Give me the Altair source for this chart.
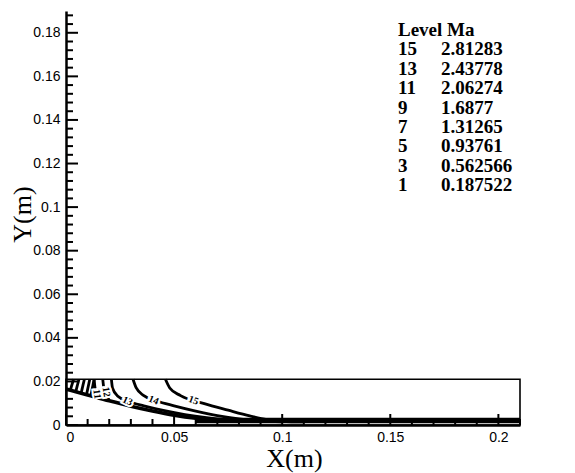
import altair as alt
import pandas as pd

# ---- domain box (m) ----
box_x = [0.0, 0.21]
box_y = [0.0, 0.021]

# ---- Mach contour lines (m) ----
edge_x = [0.0, 0.01, 0.02, 0.03, 0.04, 0.05, 0.06, 0.07, 0.08]
edge_y = [0.0165, 0.0138, 0.0111, 0.0086, 0.0064, 0.0045, 0.0031, 0.0022, 0.0017]

c11_x = [0.013, 0.0134, 0.0142, 0.0154]
c11_y = [0.021, 0.0172, 0.0140, 0.0126]
c12_x = [0.017, 0.0174, 0.0184, 0.0200]
c12_y = [0.021, 0.0176, 0.0142, 0.0114]
c13_x = [0.021, 0.0215, 0.024, 0.029, 0.036, 0.045, 0.055, 0.065, 0.075, 0.085]
c13_y = [0.021, 0.0170, 0.0132, 0.0108, 0.0088, 0.0067, 0.0048, 0.0034, 0.0024, 0.0018]
c14_x = [0.031, 0.0325, 0.036, 0.042, 0.050, 0.060, 0.070, 0.080, 0.090, 0.100]
c14_y = [0.021, 0.0170, 0.0135, 0.0110, 0.0088, 0.0064, 0.0043, 0.0028, 0.0019, 0.0015]
c15_x = [0.046, 0.048, 0.053, 0.064, 0.075, 0.085, 0.093, 0.100, 0.110]
c15_y = [0.021, 0.0170, 0.0135, 0.0098, 0.0068, 0.0042, 0.0025, 0.0017, 0.0014]

# short inlet contours near x = 0
inlet_x0 = [0.002, 0.0045, 0.007, 0.0095, 0.0115]
inlet_y0 = [0.0160, 0.0153, 0.0146, 0.0140, 0.0134]
inlet_x1 = [0.0035, 0.006, 0.0085, 0.011, 0.013]

# boundary-layer contours hugging the wall
wall_x = [0.06, 0.21]
wall_levels_y = [0.0014, 0.0020, 0.0027]

# contour labels
lab_text = ["11", "12", "13", "14", "15"]
lab_x = [0.0143, 0.0186, 0.0285, 0.0405, 0.0590]
lab_y = [0.0142, 0.0152, 0.0110, 0.0114, 0.0113]
lab_angle = [82, 80, 25, 22, 20]

# legend table
legend_level = ["15", "13", "11", "9", "7", "5", "3", "1"]
legend_ma = ["2.81283", "2.43778", "2.06274", "1.6877", "1.31265", "0.93761", "0.562566", "0.187522"]

# axis ticks
x_major = [0.0, 0.05, 0.1, 0.15, 0.2]
x_minor = [0.01, 0.02, 0.03, 0.04, 0.06, 0.07, 0.08, 0.09, 0.11, 0.12, 0.13, 0.14,
           0.16, 0.17, 0.18, 0.19, 0.21]
y_major = [0.0, 0.02, 0.04, 0.06, 0.08, 0.1, 0.12, 0.14, 0.16, 0.18]
y_minor = [0.004, 0.008, 0.012, 0.016, 0.024, 0.028, 0.032, 0.036, 0.044, 0.048, 0.052,
           0.056, 0.064, 0.068, 0.072, 0.076, 0.084, 0.088, 0.092, 0.096, 0.104, 0.108,
           0.112, 0.116, 0.124, 0.128, 0.132, 0.136, 0.144, 0.148, 0.152, 0.156, 0.164,
           0.168, 0.172, 0.176, 0.184, 0.188]

W, H = 454, 414
XMAX, YMAX = 0.21, 0.19

# ---- tables ----
rows = []
def add_line(name, xs, ys):
    for i, (a, b) in enumerate(zip(xs, ys)):
        rows.append({"line": name, "order": i, "x": a, "y": b})

for nm, xs, ys in [("c11", c11_x, c11_y), ("c12", c12_x, c12_y), ("c13", c13_x, c13_y),
                   ("c14", c14_x, c14_y), ("c15", c15_x, c15_y)]:
    add_line(nm, xs, ys)
for k, (a0, b0, a1) in enumerate(zip(inlet_x0, inlet_y0, inlet_x1)):
    add_line(f"inlet{k}", [a0, a1], [b0, box_y[1]])
for k, wy in enumerate(wall_levels_y):
    add_line(f"wall{k}", wall_x, [wy, wy])
lines_df = pd.DataFrame(rows)
edge_df = pd.DataFrame({"x": edge_x, "y": edge_y, "order": list(range(len(edge_x)))})

box_df = pd.DataFrame({"x": [box_x[0]], "x2": [box_x[1]], "y": [box_y[0]], "y2": [box_y[1]]})
lab_df = pd.DataFrame({"t": lab_text, "x": lab_x, "y": lab_y, "a": lab_angle})
leg_df = pd.DataFrame({"lev": legend_level, "ma": legend_ma, "row": list(range(1, len(legend_level) + 1))})
head_df = pd.DataFrame({"t": ["Level Ma"], "row": [0]})

xs = alt.Scale(domain=[0, XMAX], nice=False, zero=False)
ys = alt.Scale(domain=[0, YMAX], nice=False, zero=False)

x_axis = alt.Axis(values=x_major, format="~g", grid=False, ticks=True, tickSize=0,
                  domainColor="black", domainWidth=2.5, labelFont="Liberation Sans",
                  labelFontSize=14, labelColor="black", labelPadding=5,
                  title="X(m)", titleFont="Liberation Serif", titleFontSize=26,
                  titleFontWeight="normal", titleColor="black", titleX=228, titleY=41,
                  titleAlign="center", titleBaseline="alphabetic")
y_axis = alt.Axis(values=y_major, format="~g", grid=False, ticks=True, tickSize=0,
                  domainColor="black", domainWidth=2.5, labelFont="Liberation Sans",
                  labelFontSize=14, labelColor="black", labelPadding=6,
                  title="Y(m)", titleFont="Liberation Serif", titleFontSize=26,
                  titleFontWeight="normal", titleColor="black", titleAngle=270,
                  titleX=-36, titleY=203, titleAlign="center", titleBaseline="alphabetic")

X = lambda f="x": alt.X(f"{f}:Q", scale=xs, axis=x_axis)
Y = lambda f="y": alt.Y(f"{f}:Q", scale=ys, axis=y_axis)

box = alt.Chart(box_df).mark_rect(filled=False, stroke="black", strokeWidth=1.6).encode(
    x=X(), x2="x2:Q", y=Y(), y2="y2:Q")

contours = alt.Chart(lines_df).mark_line(color="black", strokeWidth=2.8,
                                         strokeJoin="round", interpolate="monotone").encode(
    x=X(), y=Y(), detail="line:N", order="order:Q")
edge = alt.Chart(edge_df).mark_line(color="black", strokeWidth=3.6,
                                    interpolate="monotone").encode(
    x=X(), y=Y(), order="order:Q")

halo = alt.Chart(lab_df).mark_text(font="Liberation Serif", fontSize=10, fontWeight="bold",
                                   stroke="white", strokeWidth=4, color="white").encode(
    x=X(), y=Y(), text="t:N", angle=alt.Angle("a:Q", scale=None))
labels = alt.Chart(lab_df).mark_text(font="Liberation Serif", fontSize=10, fontWeight="bold",
                                     color="black").encode(
    x=X(), y=Y(), text="t:N", angle=alt.Angle("a:Q", scale=None))

xmaj = alt.Chart(pd.DataFrame({"x": x_major})).mark_rule(color="black", strokeWidth=2).encode(
    x=X(), y=alt.value(H), y2=alt.value(H - 11))
xmin = alt.Chart(pd.DataFrame({"x": x_minor})).mark_rule(color="black", strokeWidth=2).encode(
    x=X(), y=alt.value(H), y2=alt.value(H - 6))
ymaj = alt.Chart(pd.DataFrame({"y": y_major})).mark_rule(color="black", strokeWidth=2).encode(
    y=Y(), x=alt.value(0), x2=alt.value(12))
ymin = alt.Chart(pd.DataFrame({"y": y_minor})).mark_rule(color="black", strokeWidth=2).encode(
    y=Y(), x=alt.value(0), x2=alt.value(7))

LEG_X, LEG_VX, LEG_TOP, LEG_DY = 332, 375, 25, 19.4
font_leg = dict(font="Liberation Serif", fontSize=19, fontWeight="bold", color="black",
                align="left", baseline="alphabetic")
head = alt.Chart(head_df).mark_text(**font_leg).transform_calculate(
    py=f"{LEG_TOP} + datum.row * {LEG_DY}").encode(
    x=alt.value(LEG_X), y=alt.Y("py:Q", scale=None, axis=None), text="t:N")
leg_lev = alt.Chart(leg_df).mark_text(**font_leg).transform_calculate(
    py=f"{LEG_TOP} + datum.row * {LEG_DY}").encode(
    x=alt.value(LEG_X), y=alt.Y("py:Q", scale=None, axis=None), text="lev:N")
leg_ma = alt.Chart(leg_df).mark_text(**font_leg).transform_calculate(
    py=f"{LEG_TOP} + datum.row * {LEG_DY}").encode(
    x=alt.value(LEG_VX), y=alt.Y("py:Q", scale=None, axis=None), text="ma:N")

chart = alt.layer(box, contours, edge, halo, labels, xmaj, xmin, ymaj, ymin,
                  head, leg_lev, leg_ma).properties(
    width=W, height=H,
    autosize=alt.AutoSizeParams(type="none"),
    padding={"left": 66, "top": 11, "right": 55, "bottom": 48},
    background="white",
).configure_view(stroke=None)

chart.save("out.html", embed_options={"renderer": "svg", "actions": False})
